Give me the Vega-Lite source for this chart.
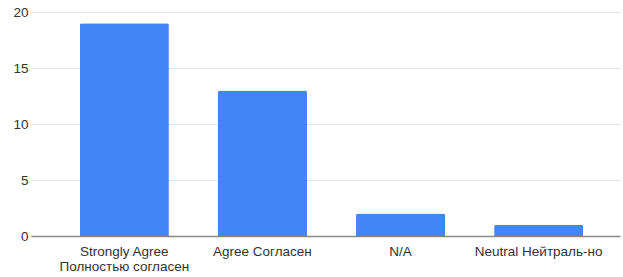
{
  "$schema": "https://vega.github.io/schema/vega-lite/v6.json",
  "autosize": "none",
  "width": 589,
  "height": 224,
  "padding": {"left": 31, "top": 12, "right": 3, "bottom": 41},
  "background": "white",
  "config": {
    "view": {"stroke": null},
    "font": "Liberation Sans"
  },
  "data": {
    "values": [
      {"label": "Strongly Agree Полностью согласен", "count": 19},
      {"label": "Agree Согласен", "count": 13},
      {"label": "N/A", "count": 2},
      {"label": "Neutral Нейтраль-но", "count": 1}
    ]
  },
  "mark": {"type": "bar", "color": "#4285F4", "cornerRadiusTopLeft": 2, "cornerRadiusTopRight": 2},
  "encoding": {
    "x": {
      "field": "label",
      "type": "nominal",
      "sort": null,
      "scale": {"paddingInner": 0.355, "paddingOuter": 0.31, "align": 0.57},
      "axis": {
        "title": null,
        "labelAngle": 0,
        "ticks": false,
        "domainColor": "#888888",
        "domainWidth": 1.5,
        "labelColor": "#333333",
        "labelFontSize": 13.5,
        "labelPadding": 8,
        "labelLimit": 300,
        "labelLineHeight": 15,
        "labelExpr": "datum.label == 'Strongly Agree Полностью согласен' ? ['Strongly Agree', 'Полностью согласен'] : datum.label"
      }
    },
    "y": {
      "field": "count",
      "type": "quantitative",
      "scale": {"domain": [0, 20], "nice": false},
      "axis": {
        "title": null,
        "values": [0, 5, 10, 15, 20],
        "domain": false,
        "ticks": false,
        "labelColor": "#333333",
        "labelFontSize": 13.5,
        "labelPadding": 3,
        "gridColor": "#e6e6e6",
        "gridWidth": 1
      }
    }
  }
}
